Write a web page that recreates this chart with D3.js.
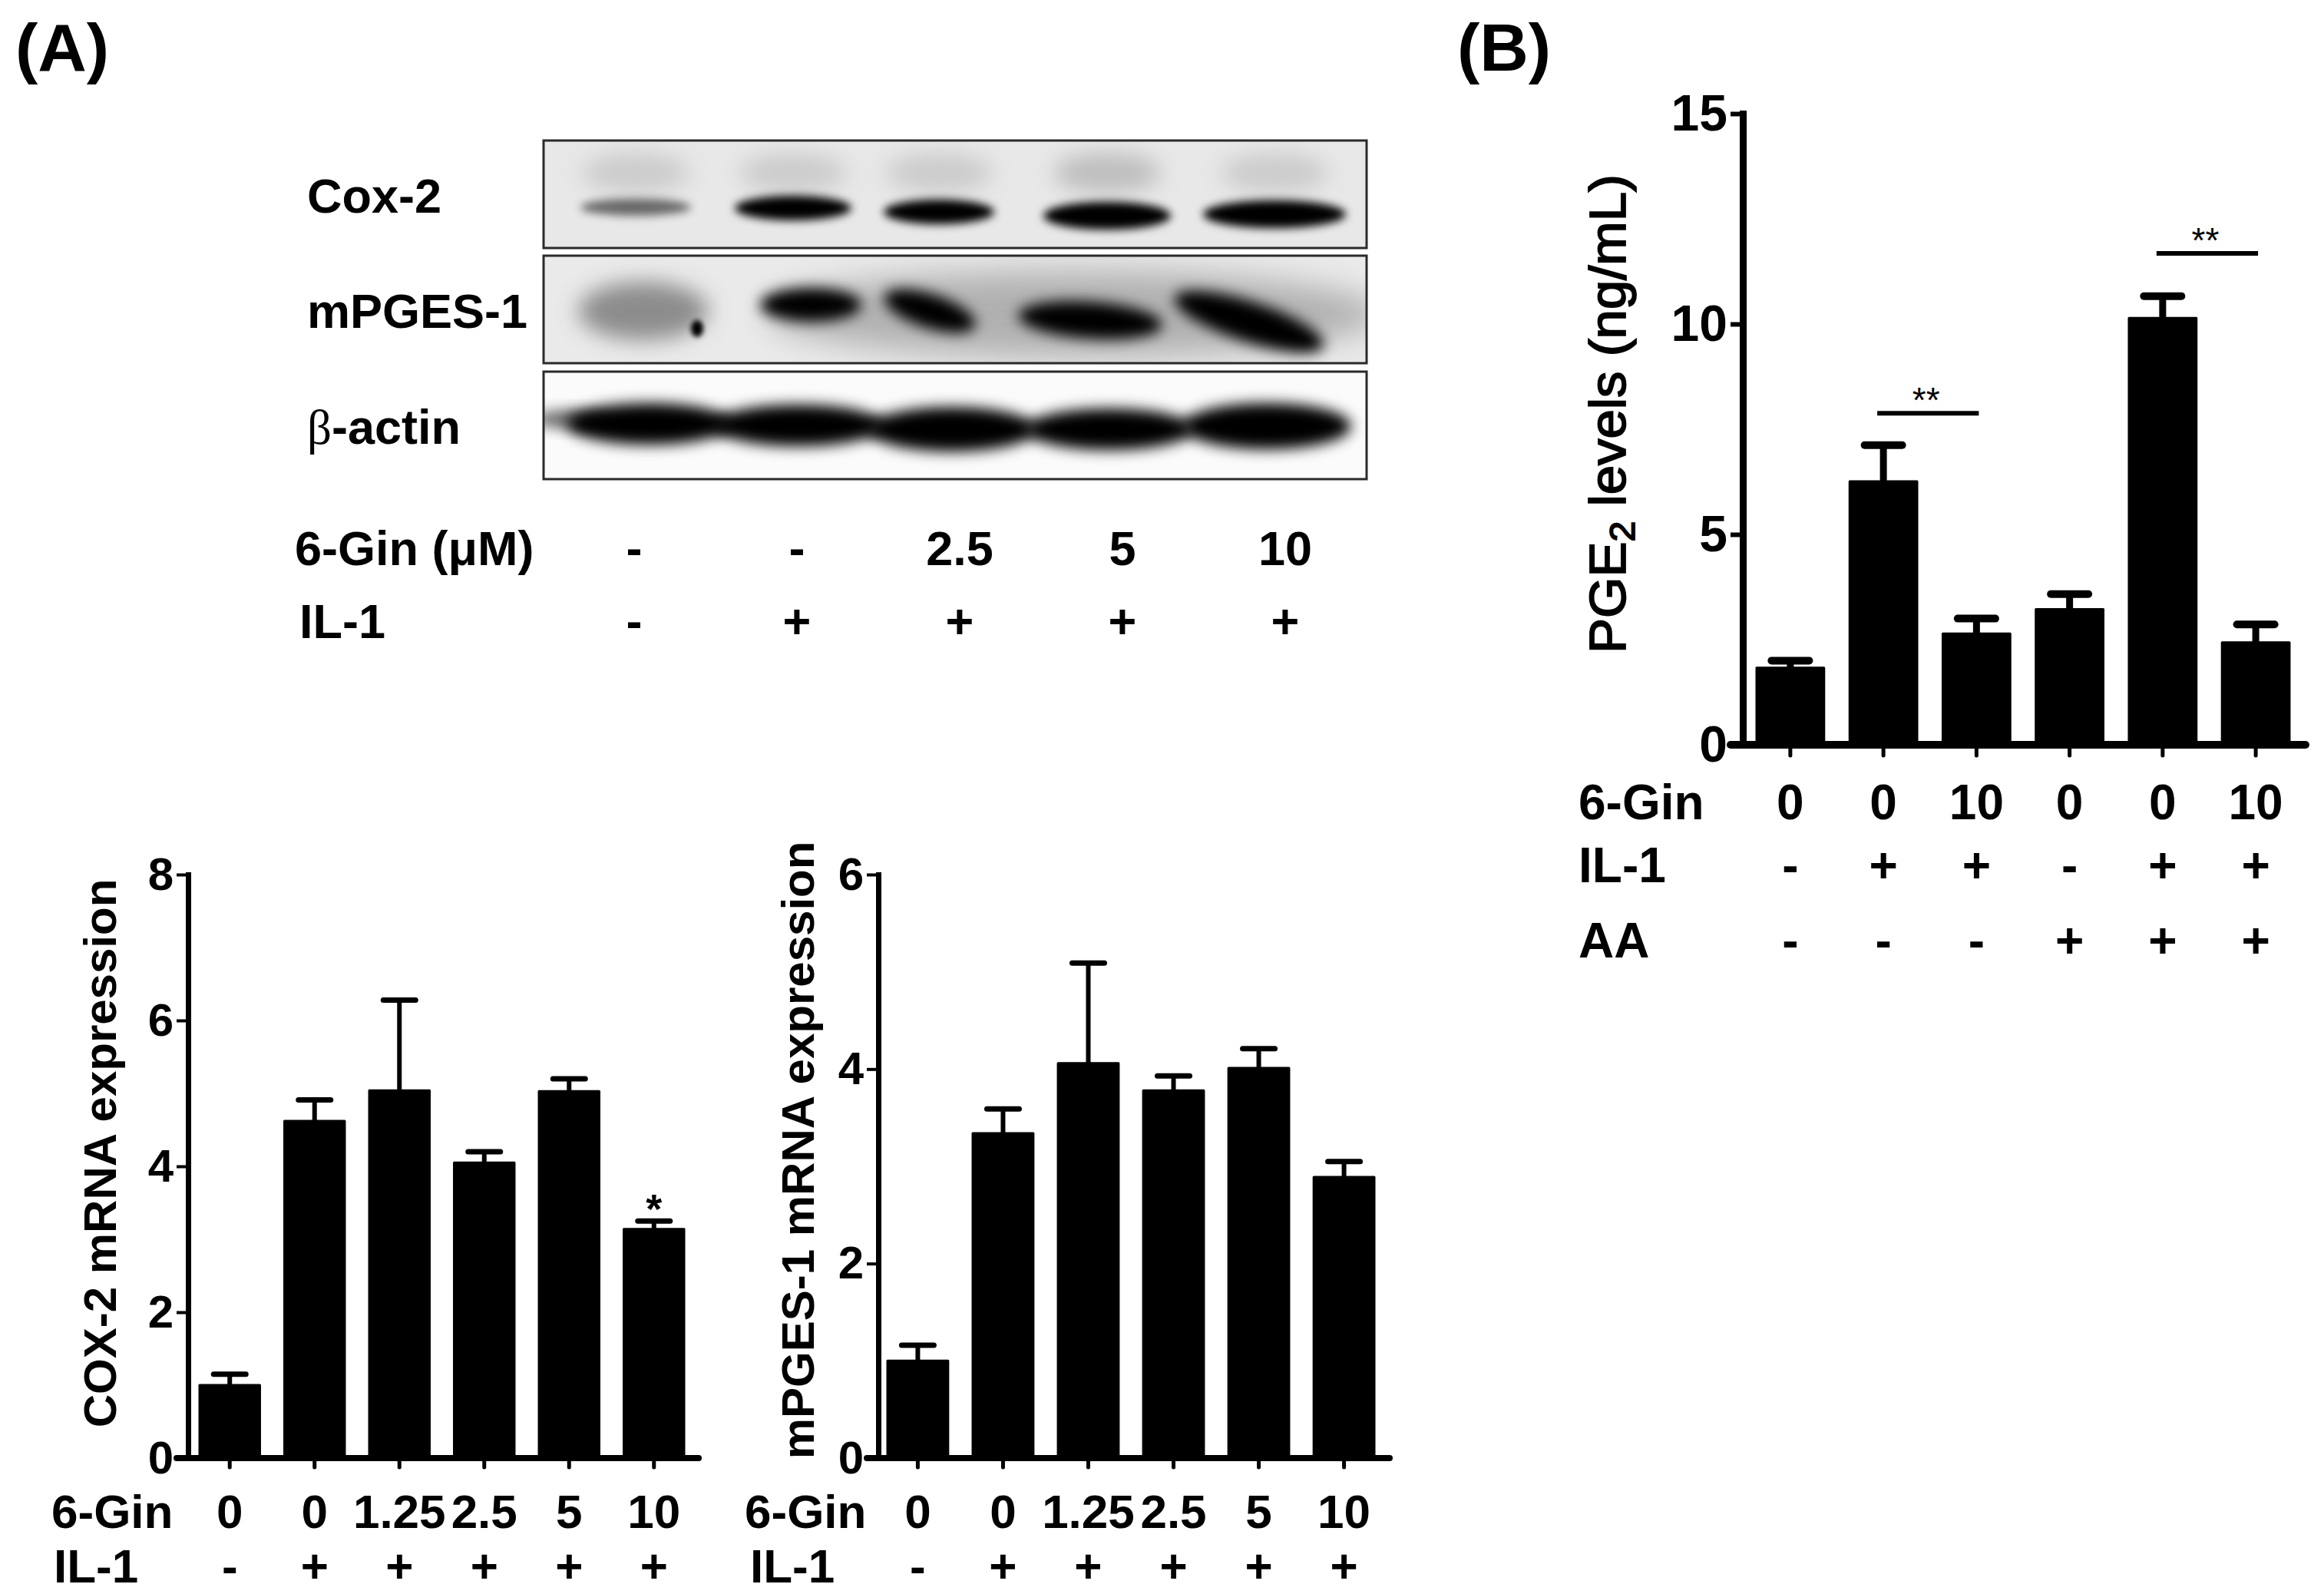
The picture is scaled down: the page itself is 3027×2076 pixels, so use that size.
<!DOCTYPE html>
<html>
<head>
<meta charset="utf-8">
<script src="https://cdn.jsdelivr.net/npm/d3@7"></script>
<style>
  body { margin: 0; background: #fff; }
  svg { display: block; }
  text { font-family: 'Liberation Sans', Arial, Helvetica, sans-serif; fill: #000; }
</style>
</head>
<body>
<script>
// ---- data ----
const blotProteins = ["Cox-2", "mPGES-1", "β-actin"];
const blotGin = ["-", "-", "2.5", "5", "10"];
const blotIL1 = ["-", "+", "+", "+", "+"];
const cox2BandLevel = [0.55, 1, 1, 1, 1];
const mpgesBandLevel = [0.35, 1, 1, 1, 1];
const actinBandLevel = [1, 1, 1, 1, 1];

const mrnaGin = ["0", "0", "1.25", "2.5", "5", "10"];
const mrnaIL1 = ["-", "+", "+", "+", "+", "+"];
const cox2Means = [1.0, 4.62, 5.04, 4.05, 5.03, 3.14];
const cox2Errs = [0.15, 0.29, 1.24, 0.15, 0.17, 0.11];
const cox2Ticks = [0, 2, 4, 6, 8];
const mpgesMeans = [1.0, 3.34, 4.06, 3.78, 4.01, 2.89];
const mpgesErrs = [0.16, 0.25, 1.03, 0.15, 0.20, 0.16];
const mpgesTicks = [0, 2, 4, 6];

const pgeGin = ["0", "0", "10", "0", "0", "10"];
const pgeIL1 = ["-", "+", "+", "-", "+", "+"];
const pgeAA = ["-", "-", "-", "+", "+", "+"];
const pgeMeans = [1.83, 6.26, 2.64, 3.22, 10.14, 2.43];
const pgeErrs = [0.17, 0.86, 0.36, 0.36, 0.52, 0.43];
const pgeTicks = [0, 5, 10, 15];
const pgeSig = [{ from: 1, to: 2, at: 7.88, label: "**" }, { from: 4, to: 5, at: 11.68, label: "**" }];

const W = 3027, H = 2076;
const svg = d3.select("body").append("svg").attr("width", W).attr("height", H);
const defs = svg.append("defs");

function blur(id, sd) {
  defs.append("filter").attr("id", id)
    .attr("x", "-60%").attr("y", "-60%").attr("width", "220%").attr("height", "220%")
    .append("feGaussianBlur").attr("stdDeviation", sd);
  return `url(#${id})`;
}
const b3 = blur("b3", 3), b6 = blur("b6", 6), b9 = blur("b9", 9), b14 = blur("b14", 14), b20 = blur("b20", 20);

// panel letters
svg.append("text").attr("x", 20).attr("y", 92).attr("font-size", 88).attr("font-weight", "bold").text("(A)");
svg.append("text").attr("x", 1898).attr("y", 92).attr("font-size", 88).attr("font-weight", "bold").text("(B)");

// ---- western blot ----
const box = { x: 708, w: 1072, h: 140, tops: [183, 333, 484] };
const lane = d3.scaleBand().domain(d3.range(blotGin.length)).range([720, 1780]);
const lc = i => lane(i) + lane.bandwidth() / 2;
const boxBg = ["#e8e8e8", "#eaeaea", "#fbfbfb"];

const blot = svg.append("g");
box.tops.forEach((t, k) => {
  defs.append("clipPath").attr("id", "clip" + k)
    .append("rect").attr("x", box.x).attr("y", t).attr("width", box.w).attr("height", box.h);
});
const panes = box.tops.map((t, k) => {
  blot.append("rect").attr("x", box.x).attr("y", t).attr("width", box.w).attr("height", box.h).attr("fill", boxBg[k]);
  return blot.append("g").attr("clip-path", `url(#clip${k})`);
});

// Cox-2: faint smear above, main band below
const coxShape = [
  { dx: 2, dy: 87, rx: 72, ry: 11 }, { dx: -5, dy: 88, rx: 76, ry: 16 }, { dx: -27, dy: 93, rx: 72, ry: 16 },
  { dx: -20, dy: 98, rx: 83, ry: 18 }, { dx: -14, dy: 96, rx: 93, ry: 18 }
];
panes[0].selectAll("ellipse.haze").data(cox2BandLevel).join("ellipse")
  .attr("cx", (d, i) => lc(i) + coxShape[i].dx).attr("cy", box.tops[0] + 42)
  .attr("rx", 70).attr("ry", 26).attr("fill", "#b0b0b0").attr("opacity", (d, i) => i === 3 ? 0.75 : 0.5).attr("filter", b14);
panes[0].selectAll("ellipse.band").data(cox2BandLevel).join("ellipse")
  .attr("cx", (d, i) => lc(i) + coxShape[i].dx).attr("cy", (d, i) => box.tops[0] + coxShape[i].dy)
  .attr("rx", (d, i) => coxShape[i].rx).attr("ry", (d, i) => coxShape[i].ry)
  .attr("fill", "#000").attr("fill-opacity", d => d).attr("filter", b6);

// mPGES-1: gray haze plus dark tilted bands
const mpShape = [
  { dx: 12, dy: 72, rx: 85, ry: 38, rot: 0 }, { dx: 18, dy: 64, rx: 66, ry: 22, rot: 0 }, { dx: -39, dy: 72, rx: 62, ry: 22, rot: 18 },
  { dx: -42, dy: 84, rx: 94, ry: 24, rot: 4 }, { dx: -47, dy: 86, rx: 102, ry: 26, rot: 18 }
];
panes[1].append("ellipse").attr("cx", 1400).attr("cy", box.tops[1] + 76).attr("rx", 400).attr("ry", 56)
  .attr("fill", "#8a8a8a").attr("opacity", 0.6).attr("filter", b20);
panes[1].selectAll("ellipse.band").data(mpgesBandLevel).join("ellipse")
  .attr("transform", (d, i) => `translate(${lc(i) + mpShape[i].dx},${box.tops[1] + mpShape[i].dy}) rotate(${mpShape[i].rot})`)
  .attr("rx", (d, i) => mpShape[i].rx).attr("ry", (d, i) => mpShape[i].ry)
  .attr("fill", d => d < 1 ? "#6e6e6e" : "#000").attr("fill-opacity", d => d < 1 ? 0.75 : 1)
  .attr("filter", d => d < 1 ? b14 : b9);
panes[1].append("ellipse").attr("cx", lc(0) + 82).attr("cy", box.tops[1] + 95).attr("rx", 8).attr("ry", 11)
  .attr("fill", "#000").attr("filter", b3);

// beta-actin: broad saturated band across all lanes
const acShape = [
  { dx: 20, dy: 68, rx: 108, ry: 27 }, { dx: 2, dy: 70, rx: 112, ry: 27 }, { dx: -10, dy: 75, rx: 110, ry: 29 },
  { dx: -17, dy: 75, rx: 110, ry: 27 }, { dx: -24, dy: 71, rx: 110, ry: 30 }
];
panes[2].append("ellipse").attr("cx", 745).attr("cy", box.tops[2] + 62).attr("rx", 50).attr("ry", 12)
  .attr("fill", "#666").attr("filter", b9);
panes[2].selectAll("ellipse.band").data(actinBandLevel).join("ellipse")
  .attr("cx", (d, i) => lc(i) + acShape[i].dx).attr("cy", (d, i) => box.tops[2] + acShape[i].dy)
  .attr("rx", (d, i) => acShape[i].rx).attr("ry", (d, i) => acShape[i].ry)
  .attr("fill", "#000").attr("fill-opacity", d => d).attr("filter", b9);

box.tops.forEach(t => {
  blot.append("rect").attr("x", box.x).attr("y", t).attr("width", box.w).attr("height", box.h)
    .attr("fill", "none").attr("stroke", "#2a2a2a").attr("stroke-width", 3);
});

const protLabels = blot.selectAll("text.prot").data(blotProteins).join("text")
  .attr("x", 400).attr("y", (d, i) => box.tops[i] + 94)
  .attr("font-size", 63).attr("font-weight", "bold");
protLabels.each(function (d) {
  const t = d3.select(this);
  if (d.startsWith("β")) {
    t.append("tspan").attr("font-family", "'Liberation Serif', 'DejaVu Serif', serif").attr("font-weight", "normal").text("β");
    t.append("tspan").text(d.slice(1));
  } else t.text(d);
});

const blotRows = [{ label: "6-Gin (μM)", vals: blotGin, x: 384, y: 736 }, { label: "IL-1", vals: blotIL1, x: 390, y: 831 }];
blotRows.forEach(r => {
  blot.append("text").attr("x", r.x).attr("y", r.y).attr("font-size", 63).attr("font-weight", "bold").text(r.label);
  blot.selectAll(null).data(r.vals).join("text")
    .attr("x", (d, i) => lc(i)).attr("y", r.y).attr("text-anchor", "middle")
    .attr("font-size", 63).attr("font-weight", "bold").text(d => d);
});

// ---- bar charts ----
function barChart(o) {
  const g = svg.append("g");
  const x = d3.scaleBand().domain(d3.range(o.means.length)).range(o.barRange).paddingInner(o.pad).paddingOuter(0);
  const y = d3.scaleLinear().domain([0, o.yMax]).range([o.y0, o.yTop]);
  const cx = i => x(i) + x.bandwidth() / 2;

  g.selectAll("rect.bar").data(o.means).join("rect").attr("class", "bar")
    .attr("x", (d, i) => x(i)).attr("y", d => y(d))
    .attr("width", x.bandwidth()).attr("height", d => y(0) - y(d))
    .attr("fill", "#000").attr("stroke", "#000").attr("stroke-width", 3).attr("stroke-linejoin", "round");

  const eb = g.selectAll("g.err").data(o.means.map((m, i) => ({ m, e: o.errs[i], i }))).join("g").attr("class", "err");
  eb.append("line").attr("x1", d => cx(d.i)).attr("x2", d => cx(d.i))
    .attr("y1", d => y(d.m)).attr("y2", d => y(d.m + d.e))
    .attr("stroke", "#000").attr("stroke-width", o.errW);
  eb.append("line").attr("x1", d => cx(d.i) - o.capW / 2).attr("x2", d => cx(d.i) + o.capW / 2)
    .attr("y1", d => y(d.m + d.e)).attr("y2", d => y(d.m + d.e))
    .attr("stroke", "#000").attr("stroke-width", o.capT).attr("stroke-linecap", "round");

  const ya = g.append("g").attr("transform", `translate(${o.axisX},0)`)
    .call(d3.axisLeft(y).tickValues(o.ticks).tickSize(o.tickLen).tickSizeOuter(0).tickPadding(4).tickFormat(d3.format("d")));
  ya.select(".domain").attr("stroke-width", o.axisW).attr("stroke-linecap", "square");
  ya.selectAll(".tick line").attr("stroke-width", o.tickW);
  ya.selectAll(".tick text").attr("font-size", o.tickFont).attr("font-weight", "bold")
    .attr("font-family", "'Liberation Sans', Arial, sans-serif").attr("fill", "#000");

  const xa = g.append("g").attr("transform", `translate(0,${o.y0})`)
    .call(d3.axisBottom(x).tickSize(o.xTickLen).tickSizeOuter(0).tickFormat(""));
  xa.select(".domain").remove();
  xa.selectAll(".tick line").attr("stroke-width", 5).attr("stroke-linecap", "round");
  g.append("line").attr("x1", o.axisX - o.tickLen).attr("x2", o.xEnd).attr("y1", o.y0).attr("y2", o.y0)
    .attr("stroke", "#000").attr("stroke-width", o.axisW + 1).attr("stroke-linecap", "round");

  o.rows.forEach(r => {
    g.append("text").attr("x", r.x).attr("y", r.y).attr("font-size", o.rowFont).attr("font-weight", "bold").text(r.label);
    g.selectAll(null).data(r.vals).join("text")
      .attr("x", (d, i) => cx(i)).attr("y", r.y).attr("text-anchor", "middle")
      .attr("font-size", o.rowFont).attr("font-weight", "bold").text(d => d);
  });

  const title = g.append("text").attr("text-anchor", "middle")
    .attr("font-size", o.titleFont).attr("font-weight", o.titleWeight || "bold");
  if (o.titleStroke) title.attr("stroke", "#000").attr("stroke-width", o.titleStroke);
  o.title.forEach(p => {
    const ts = title.append("tspan").text(p.t);
    if (p.sub) ts.attr("font-size", "0.7em").attr("dy", "0.25em");
    if (p.after) ts.attr("dy", "-0.175em");
  });
  let sx = 1;
  if (o.titleLen) sx = o.titleLen / title.node().getComputedTextLength();
  title.attr("transform", `translate(${o.titleX},${o.titleY}) rotate(-90) scale(${sx},1)`);

  (o.stars || []).forEach(s => {
    g.append("text").attr("x", cx(s.at)).attr("y", y(o.means[s.at] + o.errs[s.at]) + 3)
      .attr("text-anchor", "middle").attr("font-size", 54).attr("font-weight", "bold").text(s.label);
  });
  (o.sig || []).forEach(s => {
    g.append("line").attr("x1", cx(s.from) - 8).attr("x2", cx(s.to) + 3).attr("y1", y(s.at)).attr("y2", y(s.at))
      .attr("stroke", "#000").attr("stroke-width", 6);
    g.append("text").attr("x", (cx(s.from) + cx(s.to)) / 2 - 5).attr("y", y(s.at) - 1)
      .attr("text-anchor", "middle").attr("font-size", 46).text(s.label);
  });
}

barChart({
  means: cox2Means, errs: cox2Errs, yMax: 8, ticks: cox2Ticks,
  barRange: [260, 891], pad: 0.29, y0: 1899, yTop: 1139, axisX: 245, xEnd: 910,
  axisW: 7, tickLen: 15, tickW: 4, xTickLen: 12, tickFont: 60, errW: 6, capW: 42, capT: 7,
  rowFont: 62, rows: [{ label: "6-Gin", vals: mrnaGin, x: 67, y: 1990 }, { label: "IL-1", vals: mrnaIL1, x: 70, y: 2061 }],
  title: [{ t: "COX-2 mRNA expression" }], titleFont: 60, titleX: 151, titleY: 1502,
  stars: [{ at: 5, label: "*" }]
});

barChart({
  means: mpgesMeans, errs: mpgesErrs, yMax: 6, ticks: mpgesTicks,
  barRange: [1156, 1790], pad: 0.29, y0: 1899, yTop: 1139, axisX: 1144, xEnd: 1810,
  axisW: 7, tickLen: 15, tickW: 4, xTickLen: 12, tickFont: 60, errW: 6, capW: 42, capT: 7,
  rowFont: 62, rows: [{ label: "6-Gin", vals: mrnaGin, x: 970, y: 1990 }, { label: "IL-1", vals: mrnaIL1, x: 977, y: 2061 }],
  title: [{ t: "mPGES-1 mRNA expression" }], titleFont: 60, titleX: 1060, titleY: 1498
});

barChart({
  means: pgeMeans, errs: pgeErrs, yMax: 15, ticks: pgeTicks,
  barRange: [2288, 2982], pad: 0.276, y0: 970, yTop: 148, axisX: 2270, xEnd: 3003,
  axisW: 9, tickLen: 16, tickW: 6, xTickLen: 14, tickFont: 66, errW: 9, capW: 49, capT: 10,
  rowFont: 64, rows: [
    { label: "6-Gin", vals: pgeGin, x: 2056, y: 1067 },
    { label: "IL-1", vals: pgeIL1, x: 2056, y: 1149 },
    { label: "AA", vals: pgeAA, x: 2056, y: 1247 }],
  title: [{ t: "PGE" }, { t: "2", sub: true }, { t: " levels (ng/mL)", after: true }],
  titleFont: 67, titleWeight: "normal", titleStroke: 1.8, titleX: 2117, titleY: 539, titleLen: 624,
  sig: pgeSig
});
</script>
</body>
</html>
